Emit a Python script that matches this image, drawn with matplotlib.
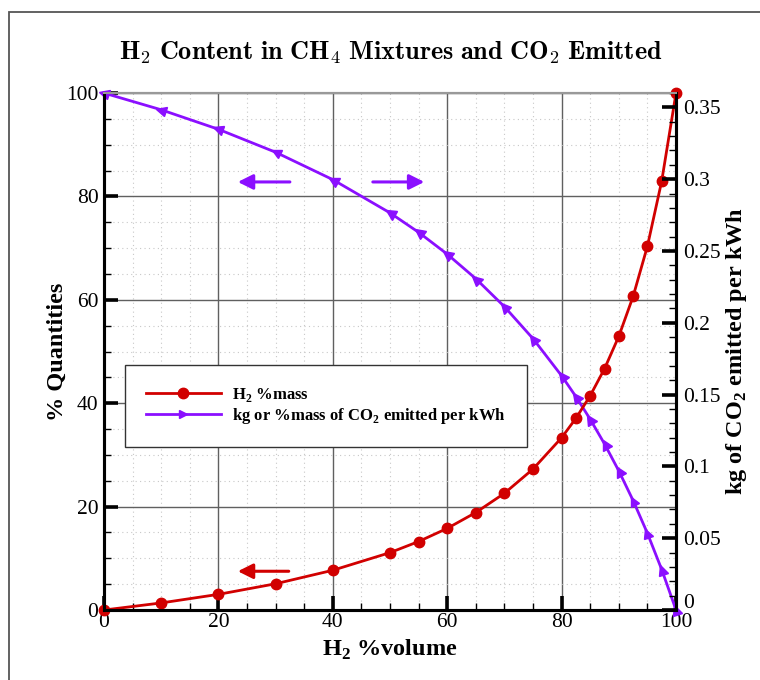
import matplotlib
matplotlib.use("Agg")
import matplotlib.pyplot as plt
from matplotlib.lines import Line2D
from matplotlib.markers import MarkerStyle
from matplotlib.patches import Rectangle
from matplotlib.ticker import MultipleLocator, FuncFormatter
from matplotlib.transforms import Affine2D
from matplotlib.font_manager import FontProperties
import numpy as np

# H2 volume fraction in the CH4/H2 blend (%)
h2_volume = [0, 10, 20, 30, 40, 50, 55, 60, 65, 70, 75, 80,
             82.5, 85, 87.5, 90, 92.5, 95, 97.5, 100]
# H2 mass fraction (%)
h2_mass = [0, 1.37, 3.03, 5.08, 7.69, 11.1, 13.25, 15.79, 18.86, 22.58,
           27.27, 33.33, 37.08, 41.46, 46.67, 52.94, 60.66, 70.37, 82.98, 100]
# CO2 emitted per kWh, relative to pure CH4 (%)
co2_rel = [100, 96.76, 92.99, 88.55, 83.25, 76.82, 73.06, 68.84, 64.09, 58.68,
           52.49, 45.31, 41.28, 36.90, 32.13, 26.91, 21.18, 14.85, 7.83, 0]

RED = "#D10000"
PURPLE = "#8B0FFF"
SERIF = "Liberation Serif"

plt.rcParams["font.family"] = [SERIF, "DejaVu Serif"]
plt.rcParams["mathtext.fontset"] = "custom"
plt.rcParams["mathtext.rm"] = SERIF
plt.rcParams["mathtext.bf"] = SERIF + ":bold"

fig = plt.figure(figsize=(7.6, 6.8), dpi=100)
ax = fig.add_axes([0.1368, 0.1029, 0.7527, 0.7603])
ax2 = ax.twinx()

# outer frame, cut by the right and bottom edges
fig.patches.append(Rectangle((9 / 760, -0.1), 1.2, 1.1 - 12 / 680,
                             transform=fig.transFigure, fill=False,
                             edgecolor="#555555", linewidth=1.3))

ax.set_xlim(0, 100)
ax.set_ylim(0, 100)
ax2.set_ylim(0, 0.36)

ax.xaxis.set_major_locator(MultipleLocator(20))
ax.xaxis.set_minor_locator(MultipleLocator(5))
ax.yaxis.set_major_locator(MultipleLocator(20))
ax.yaxis.set_minor_locator(MultipleLocator(5))
ax2.yaxis.set_major_locator(MultipleLocator(0.05))
ax2.yaxis.set_minor_locator(MultipleLocator(0.01))
# the right-hand zero is placed by hand below, slightly raised
ax2.yaxis.set_major_formatter(
    FuncFormatter(lambda v, pos: "" if abs(v) < 1e-9 else f"{v:g}"))

ax.grid(which="minor", color="#C8C8C8", linestyle=(0, (1, 3)), linewidth=0.8)
ax.grid(which="major", color="#606060", linestyle="-", linewidth=1.0)
ax.set_axisbelow(True)

for a in (ax, ax2):
    for side in ("left", "bottom", "right"):
        a.spines[side].set_linewidth(2.2)
        a.spines[side].set_color("black")
    a.spines["top"].set_color("#999999")
    a.spines["top"].set_linewidth(1.5)
    a.tick_params(which="major", direction="in", length=10, width=2.6,
                  labelsize=15.5)
    a.tick_params(which="minor", direction="in", length=5, width=1.0)
ax.tick_params(axis="x", pad=2)
ax.tick_params(axis="y", pad=4)
ax2.tick_params(axis="y", pad=5)

ax2.annotate("0", xy=(1, 0), xycoords=("axes fraction", "data"),
             xytext=(5, 5), textcoords="offset points",
             ha="left", va="center", fontsize=15.5)

ax.plot(h2_volume, h2_mass, color=RED, linewidth=2.0, marker="o",
        markersize=7.5, clip_on=False, zorder=4)
ax.plot(h2_volume, co2_rel, color=PURPLE, linewidth=2.0, zorder=3,
        clip_on=False)

# triangle markers turned along the purple curve
pts = ax.transData.transform(np.column_stack([h2_volume, co2_rel]))
for i, (xv, yv) in enumerate(zip(h2_volume, co2_rel)):
    p0 = pts[max(i - 1, 0)]
    p1 = pts[min(i + 1, len(pts) - 1)]
    ang = np.degrees(np.arctan2(p0[1] - p1[1], p0[0] - p1[0]))
    mk = MarkerStyle("^", transform=Affine2D().rotate_deg(ang - 90))
    ax.plot([xv], [yv], linestyle="none", marker=mk, markersize=7,
            color=PURPLE, clip_on=False, zorder=3)

# direction arrows
arrow_kw = dict(arrowstyle="-|>,head_length=0.9,head_width=0.45",
                linewidth=2.2, shrinkA=0, shrinkB=0)
ax.annotate("", xy=(23.4, 82.8), xytext=(32.5, 82.8),
            arrowprops=dict(color=PURPLE, **arrow_kw))
ax.annotate("", xy=(56.0, 82.8), xytext=(47.0, 82.8),
            arrowprops=dict(color=PURPLE, **arrow_kw))
ax.annotate("", xy=(23.4, 7.5), xytext=(32.3, 7.5),
            arrowprops=dict(color=RED, **arrow_kw))

title_fp = FontProperties(size=18.8, math_fontfamily="cm")
fig.text(0.514, 0.922,
         r"$\mathbf{H_2\ Content\ in\ CH_4\ Mixtures\ and\ CO_2\ Emitted}$",
         fontproperties=title_fp, ha="center", va="center")

ax.set_xlabel(r"H$_{\mathbf{2}}$ %volume", fontsize=17.5, fontweight="bold")
ax.xaxis.set_label_coords(0.5, -0.054)
ax.set_ylabel("% Quantities", fontsize=17.5, fontweight="bold")
ax.yaxis.set_label_coords(-0.064, 0.5)
ax2.set_ylabel(r"kg of CO$_{\mathbf{2}}$ emitted per kWh", fontsize=17.5,
               fontweight="bold", rotation=90)
ax2.yaxis.set_label_coords(1.083, 0.5)

handles = [
    Line2D([], [], color=RED, linewidth=2.0, marker="o", markersize=7.5),
    Line2D([], [], color=PURPLE, linewidth=2.0, marker=">", markersize=6),
]
labels = [r"H$_{\mathbf{2}}$ %mass",
          r"kg or %mass of CO$_{\mathbf{2}}$ emitted per kWh"]
leg = ax2.legend(handles, labels, loc="upper left",
                 bbox_to_anchor=(0.0367, 0.474), borderaxespad=0,
                 fancybox=False, framealpha=1, edgecolor="#333333",
                 handlelength=4.5, handletextpad=0.7, borderpad=1.25,
                 labelspacing=0.15,
                 prop=dict(family=SERIF, weight="bold", size=12))
leg.get_frame().set_linewidth(1.0)

fig.savefig("out.png", dpi=100)
